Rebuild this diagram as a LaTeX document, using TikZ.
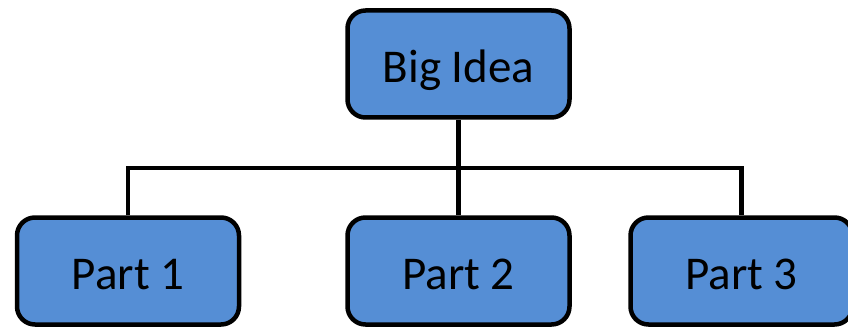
\documentclass[tikz,border=0pt]{standalone}
\usepackage{fontspec}
\setmainfont{Carlito}
\usetikzlibrary{positioning}
\definecolor{boxblue}{RGB}{85,142,213}
\tikzset{
  topicbox/.style={draw=black, fill=boxblue, line width=4.5pt, rounded corners=18pt,
    minimum width=222pt, minimum height=107pt, inner sep=0pt,
    text height=37pt, text depth=0pt,
    font=\fontsize{47}{54}\selectfont}
}

\begin{document}
\begin{tikzpicture}[line join=miter,x=1pt,y=1pt]
    \useasboundingbox (0,0) rectangle (848,327);
    \clip (0,0) rectangle (848,327);

    % Boxes
    \node[topicbox] (idea) at (458.5,263) {Big Idea};
    \node[topicbox] (part1) at (128,56) {Part 1};
    \node[topicbox] (part2) at (458.5,56) {Part 2};
    \node[topicbox] (part3) at (741.5,56) {Part 3};
    \coordinate (bus) at (458.5,159);

    % Edges
    \draw[black, line width=4.5pt] (part1.north) |- (bus) -| (part3.north);
    \foreach \source/\target in {idea/part2} {
            \draw[black, line width=4.5pt] (\source.south) -- (\target.north);
        }
\end{tikzpicture}
\end{document}
